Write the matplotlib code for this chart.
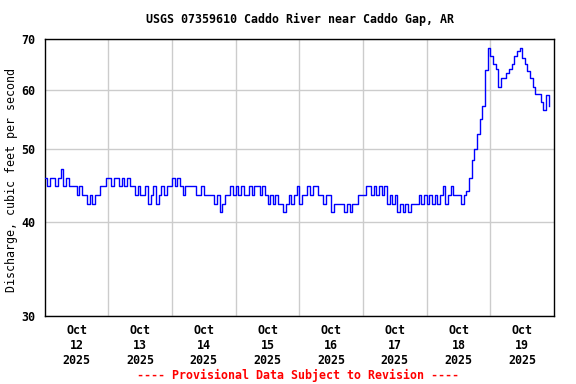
#!/usr/bin/env python3
"""
Discharge hydrograph, USGS 07359610 Caddo River near Caddo Gap, AR.
Hourly values read off the reference plot (Oct 12 00:00 -> Oct 19 ~22:00).
"""

import numpy as np
import matplotlib
matplotlib.use("Agg")
import matplotlib.pyplot as plt

# ---------------- Data (cfs, one value per hour) ----------------
oct12 = [45.8, 44.6, 45.8, 45.8, 44.6, 45.8, 47.0, 44.6, 45.8, 44.6, 44.6, 44.6,
         43.4, 44.6, 43.4, 43.4, 42.3, 43.4, 42.3, 43.4, 43.4, 44.6, 44.6, 45.8]
oct13 = [45.8, 44.6, 45.8, 45.8, 44.6, 45.8, 44.6, 45.8, 44.6, 44.6, 43.4, 44.6,
         43.4, 43.4, 44.6, 42.3, 43.4, 44.6, 42.3, 43.4, 44.6, 43.4, 44.6, 44.6]
oct14 = [45.8, 44.6, 45.8, 44.6, 43.4, 44.6, 44.6, 44.6, 44.6, 43.4, 43.4, 44.6,
         43.4, 43.4, 43.4, 43.4, 42.3, 43.4, 41.2, 42.3, 43.4, 43.4, 44.6, 43.4]
oct15 = [44.6, 43.4, 44.6, 43.4, 43.4, 44.6, 43.4, 44.6, 44.6, 43.4, 44.6, 43.4,
         42.3, 43.4, 42.3, 43.4, 42.3, 42.3, 41.2, 42.3, 43.4, 42.3, 43.4, 44.6]
oct16 = [42.3, 43.4, 43.4, 44.6, 43.4, 44.6, 44.6, 43.4, 43.4, 42.3, 43.4, 43.4,
         41.2, 42.3, 42.3, 42.3, 42.3, 41.2, 42.3, 41.2, 42.3, 42.3, 43.4, 43.4]
oct17 = [43.4, 44.6, 44.6, 43.4, 44.6, 43.4, 44.6, 43.4, 44.6, 42.3, 43.4, 42.3,
         43.4, 41.2, 42.3, 41.2, 42.3, 41.2, 42.3, 42.3, 42.3, 43.4, 42.3, 43.4]
oct18 = [42.3, 43.4, 42.3, 43.4, 42.3, 43.4, 44.6, 42.3, 43.4, 44.6, 43.4, 43.4,
         43.4, 42.3, 43.4, 44.0, 45.8, 48.4, 50.1, 52.3, 54.8, 57.0, 63.8, 68.2]
oct19 = [66.6, 64.8, 63.9, 60.5, 62.1, 62.1, 63.1, 64.0, 64.8, 66.6, 67.5, 68.2,
         66.0, 64.8, 63.5, 62.1, 60.5, 59.2, 59.2, 57.8, 56.4, 59.1, 57.0]

day_nums = [12, 13, 14, 15, 16, 17, 18, 19]
y_ticks = [30, 40, 50, 60, 70]

flow = np.array(oct12 + oct13 + oct14 + oct15 + oct16 + oct17 + oct18 + oct19)
hours = np.arange(len(flow))

# ---------------- Style ----------------
plt.rcParams["font.family"] = "DejaVu Sans Mono"
plt.rcParams["font.weight"] = "bold"
plt.rcParams["font.size"] = 8.4

fig = plt.figure(figsize=(5.76, 3.84), dpi=100)
ax = fig.add_axes([0.0776, 0.1771, 0.8842, 0.7206])

ax.plot(hours, flow, drawstyle="steps-post", color="#0000ff", lw=1.0, zorder=3)

ax.set_yscale("log")
ax.set_ylim(30, 70)
ax.set_yticks(y_ticks)
ax.set_yticklabels([str(v) for v in y_ticks])
ax.yaxis.set_minor_locator(matplotlib.ticker.NullLocator())

ax.set_xlim(0, 24 * len(day_nums))
ax.set_xticks([12 + 24 * i for i in range(len(day_nums))])
ax.set_xticklabels([f"Oct\n{d}\n2025" for d in day_nums])
ax.set_xticks([24 * i for i in range(1, len(day_nums))], minor=True)

ax.tick_params(which="both", length=0)
ax.tick_params(axis="y", pad=7)
ax.tick_params(axis="x", pad=6)

ax.grid(True, which="minor", axis="x", color="#cccccc", lw=1.0)
ax.grid(True, which="major", axis="y", color="#cccccc", lw=1.0)
ax.set_axisbelow(True)
for s in ax.spines.values():
    s.set_linewidth(1.0)
    s.set_color("black")

ax.set_ylabel("Discharge, cubic feet per second")
ax.yaxis.set_label_coords(-0.053, 0.49)

fig.text(0.52, 0.95, "USGS 07359610 Caddo River near Caddo Gap, AR",
         ha="center", va="center")
fig.text(0.517, 0.023, "---- Provisional Data Subject to Revision ----",
         ha="center", va="center", color="#ff0000")

fig.savefig("out.png", dpi=100)
